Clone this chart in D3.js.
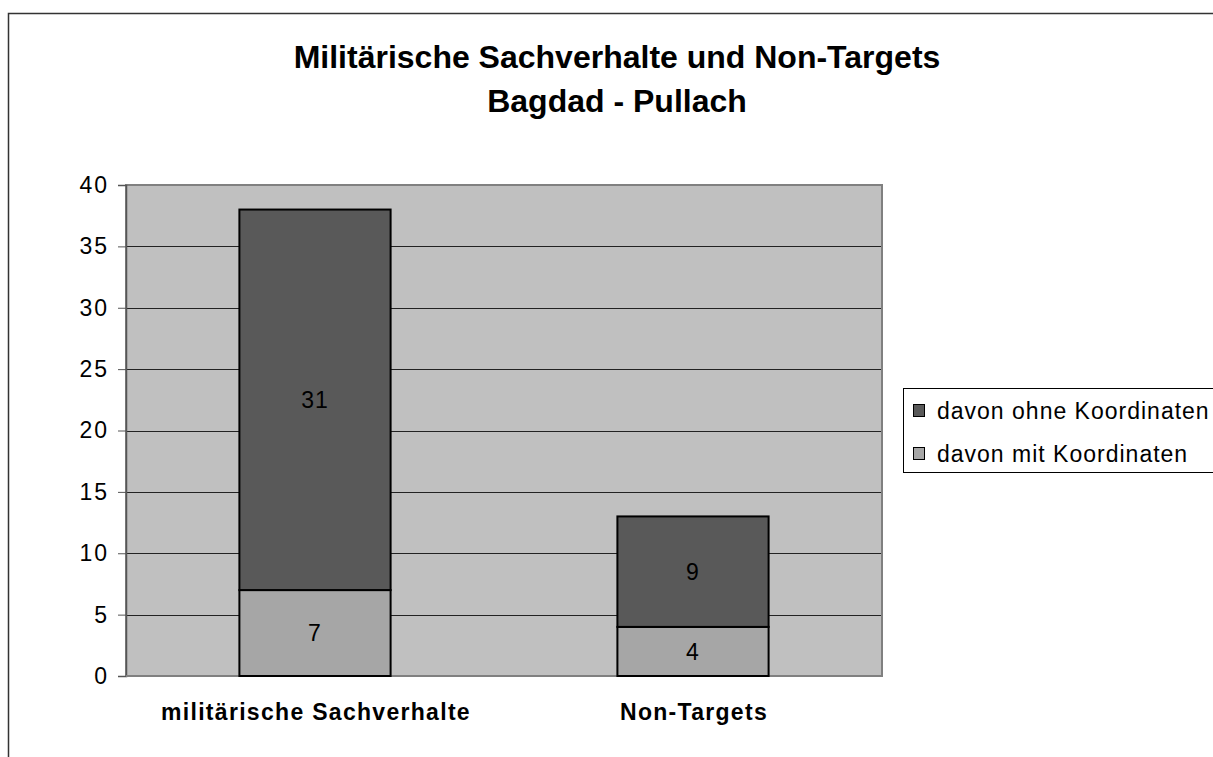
<!DOCTYPE html>
<html>
<head>
<meta charset="utf-8">
<script src="https://d3js.org/d3.v7.min.js"></script>
<style>
  body { margin: 0; background: #fff; }
  svg { display: block; font-family: Arial, "Liberation Sans", sans-serif; }
</style>
</head>
<body>
<svg id="chart" width="1213" height="757"></svg>
<script>
// Data
var categories = ["militärische Sachverhalte", "Non-Targets"];
var seriesNames = ["davon mit Koordinaten", "davon ohne Koordinaten"];
var mitKoordinaten = [7, 4];
var ohneKoordinaten = [31, 9];
var yTicks = [0, 5, 10, 15, 20, 25, 30, 35, 40];
var titleLines = ["Militärische Sachverhalte und Non-Targets", "Bagdad - Pullach"];

var colours = ["#a6a6a6", "#595959"];

var width = 1213,
    height = 757,
    plot = { left: 126, right: 882, top: 185, bottom: 676 };

var svg = d3.select("#chart");

// outer chart frame (runs off the page right and bottom)
svg.append("rect")
    .attr("x", 8.5).attr("y", 13.5)
    .attr("width", 1300).attr("height", 900)
    .attr("fill", "#fff")
    .attr("stroke", "#333").attr("stroke-width", 1.5);

// title
svg.append("g").selectAll("text")
    .data(titleLines)
    .enter().append("text")
    .attr("x", 617)
    .attr("y", function(d, i) { return 68 + i * 44; })
    .attr("text-anchor", "middle")
    .style("font-size", "32px")
    .style("font-weight", "bold")
    .text(function(d) { return d; });

// scales
var x = d3.scaleBand()
    .domain(categories)
    .range([plot.left, plot.right])
    .paddingInner(0.6)
    .paddingOuter(0.3);

var y = d3.scaleLinear()
    .domain([0, 40])
    .range([plot.bottom, plot.top]);

// plot area
svg.append("rect")
    .attr("x", plot.left).attr("y", plot.top)
    .attr("width", plot.right - plot.left)
    .attr("height", plot.bottom - plot.top)
    .attr("fill", "#c0c0c0")
    .attr("stroke", "#808080").attr("stroke-width", 2);

// gridlines
svg.append("g").selectAll("line")
    .data(yTicks.filter(function(d) { return d > 0 && d < 40; }))
    .enter().append("line")
    .attr("x1", plot.left).attr("x2", plot.right - 1)
    .attr("y1", function(d) { return Math.round(y(d)) + 0.5; })
    .attr("y2", function(d) { return Math.round(y(d)) + 0.5; })
    .attr("stroke", "#222").attr("stroke-width", 1);

// y axis
var yAxis = svg.append("g")
    .attr("transform", "translate(" + plot.left + ",0)")
    .call(d3.axisLeft(y).tickValues(yTicks).tickSize(8).tickPadding(9));
yAxis.select(".domain").attr("stroke", "#555").attr("stroke-width", 1.5);
yAxis.selectAll(".tick line").attr("stroke", "#555");
yAxis.selectAll(".tick text")
    .style("font-size", "23px")
    .style("letter-spacing", "2px")
    .style("font-family", "Arial, 'Liberation Sans', sans-serif")
    .attr("fill", "#000");

// x axis baseline
svg.append("line")
    .attr("x1", plot.left).attr("x2", plot.right)
    .attr("y1", plot.bottom).attr("y2", plot.bottom)
    .attr("stroke", "#808080").attr("stroke-width", 2);

// stacked data
var rows = categories.map(function(c, i) {
    return { category: c, mit: mitKoordinaten[i], ohne: ohneKoordinaten[i] };
});
var stacked = d3.stack().keys(["mit", "ohne"])(rows);

var layer = svg.append("g").selectAll("g")
    .data(stacked)
    .enter().append("g")
    .attr("fill", function(d, i) { return colours[i]; });

layer.selectAll("rect")
    .data(function(d) { return d; })
    .enter().append("rect")
    .attr("x", function(d) { return x(d.data.category); })
    .attr("y", function(d) { return y(d[1]); })
    .attr("width", x.bandwidth())
    .attr("height", function(d) { return y(d[0]) - y(d[1]); })
    .attr("stroke", "#000").attr("stroke-width", 2);

layer.selectAll("text")
    .data(function(d) { return d; })
    .enter().append("text")
    .attr("x", function(d) { return x(d.data.category) + x.bandwidth() / 2; })
    .attr("y", function(d) { return (y(d[0]) + y(d[1])) / 2; })
    .attr("dy", "0.35em")
    .attr("text-anchor", "middle")
    .attr("fill", "#000")
    .style("font-size", "23px")
    .style("letter-spacing", "1px")
    .text(function(d) { return d[1] - d[0]; });

// category labels
svg.append("g").selectAll("text")
    .data(categories)
    .enter().append("text")
    .attr("x", function(d) { return x(d) + x.bandwidth() / 2 + 1; })
    .attr("y", 720)
    .attr("text-anchor", "middle")
    .style("font-size", "23px")
    .style("font-weight", "bold")
    .style("letter-spacing", "1.3px")
    .text(function(d) { return d; });

// legend
var legend = svg.append("g").attr("transform", "translate(903,388)");
legend.append("rect")
    .attr("x", 0.5).attr("y", 0.5)
    .attr("width", 400).attr("height", 84)
    .attr("fill", "#fff")
    .attr("stroke", "#000").attr("stroke-width", 1);

var legendItems = [seriesNames[1], seriesNames[0]];
var legendColours = [colours[1], colours[0]];

var item = legend.selectAll(".legenditem")
    .data(legendItems)
    .enter().append("g")
    .attr("class", "legenditem")
    .attr("transform", function(d, i) { return "translate(0," + (23 + i * 43) + ")"; });

item.append("rect")
    .attr("x", 10.5).attr("y", -6.5)
    .attr("width", 11).attr("height", 12)
    .attr("fill", function(d, i) { return legendColours[i]; })
    .attr("stroke", "#000").attr("stroke-width", 1);

item.append("text")
    .attr("x", 34)
    .attr("y", 0)
    .attr("dy", "0.35em")
    .style("font-size", "23px")
    .style("letter-spacing", "1px")
    .text(function(d) { return d; });
</script>
</body>
</html>
